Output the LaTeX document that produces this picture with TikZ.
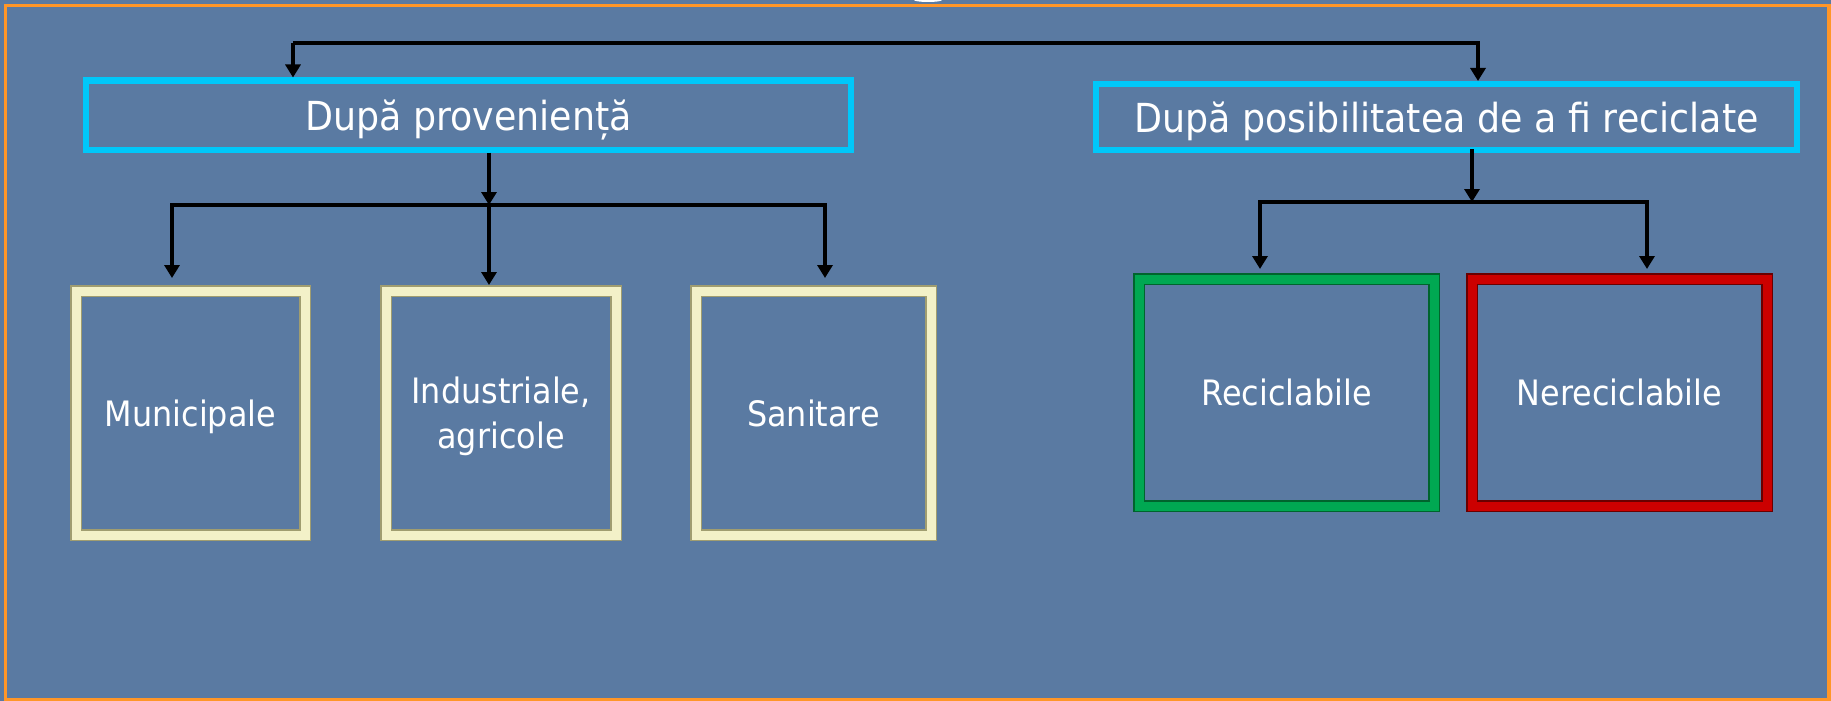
\documentclass[tikz,border=0pt]{standalone}
\usepackage{fontspec}
\setmainfont[FakeStretch=0.91]{DejaVu Sans}
\usetikzlibrary{arrows.meta}
\definecolor{slideblue}{RGB}{90,122,162}
\definecolor{slideorange}{RGB}{255,150,40}
\definecolor{titlecyan}{RGB}{0,200,250}
\definecolor{cream}{RGB}{243,241,200}
\definecolor{creamdark}{RGB}{160,157,112}
\definecolor{recgreen}{RGB}{0,168,82}
\definecolor{recgreendark}{RGB}{0,100,45}
\definecolor{nonred}{RGB}{204,0,0}
\definecolor{nonreddark}{RGB}{105,0,0}
\tikzset{
	titlebox/.style={draw=titlecyan, line width=6pt, text=white, inner sep=0pt,
		text depth=0pt, font=\fontsize{40}{48}\selectfont},
	wastebox/.style={draw=creamdark, double=cream, double distance=9pt, line width=1.5pt,
		outer sep=6pt, inner sep=0pt, text=white, align=center, text depth=0pt,
		font=\fontsize{35}{45}\selectfont},
	arr/.style={-{Triangle[width=15pt,length=13pt]}, line width=3.3pt, black},
}

\begin{document}
\begin{tikzpicture}[x=1pt,y=-1pt]
	\useasboundingbox (0,0) rectangle (1831,701);
	\fill[slideblue] (0,0) rectangle (1831,701);
	\draw[slideorange, line width=3.5pt] (5.5,5.5) rectangle (1829,699.5);
	\fill[white] (928,0) ellipse (14 and 2);
	% upper level
	\node[titlebox, minimum width=765pt, minimum height=69pt] (prov) at (468.5,115) {După proveniență};
	\node[titlebox, minimum width=701pt, minimum height=66pt] (posib) at (1446.5,117) {După posibilitatea de a fi reciclate};
	% lower level
	\node[wastebox, minimum width=229pt, minimum height=244pt] (mun) at (190.5,413) {Municipale};
	\node[wastebox, minimum width=230pt, minimum height=244pt] (ind) at (501,413) {Industriale,\\agricole};
	\node[wastebox, minimum width=235pt, minimum height=244pt] (san) at (813.5,413) {Sanitare};
	\node[wastebox, draw=recgreendark, double=recgreen, minimum width=295pt, minimum height=227pt] (rec) at (1286.5,392.5) {Reciclabile};
	\node[wastebox, draw=nonreddark, double=nonred, minimum width=295pt, minimum height=227pt] (nrec) at (1619.5,392.5) {Nereciclabile};
	% connectors
	\coordinate (topL) at (293,43);
	\coordinate (topR) at (1478,43);
	\draw[arr] (topL) -- (topL |- prov.north);
	\draw[arr] (topL) -- (topR) -- (topR |- posib.north);
	\coordinate (jL) at (489,205);
	\coordinate (aMun) at (172,205);
	\coordinate (aSan) at (825,205);
	\draw[arr] (prov.south -| jL) -- (jL);
	\draw[arr] (jL) -- (jL |- ind.north);
	\draw[arr, shorten >=7pt] (jL) -- (aMun) -- (aMun |- mun.north);
	\draw[arr, shorten >=7pt] (jL) -- (aSan) -- (aSan |- san.north);
	\coordinate (jR) at (1472,202);
	\coordinate (aRec) at (1260,202);
	\coordinate (aNrec) at (1647,202);
	\draw[arr] ([yshift=4pt]posib.south -| jR) -- (jR);
	\draw[arr, shorten >=4pt] (jR) -- (aRec) -- (aRec |- rec.north);
	\draw[arr, shorten >=4pt] (jR) -- (aNrec) -- (aNrec |- nrec.north);
\end{tikzpicture}
\end{document}
